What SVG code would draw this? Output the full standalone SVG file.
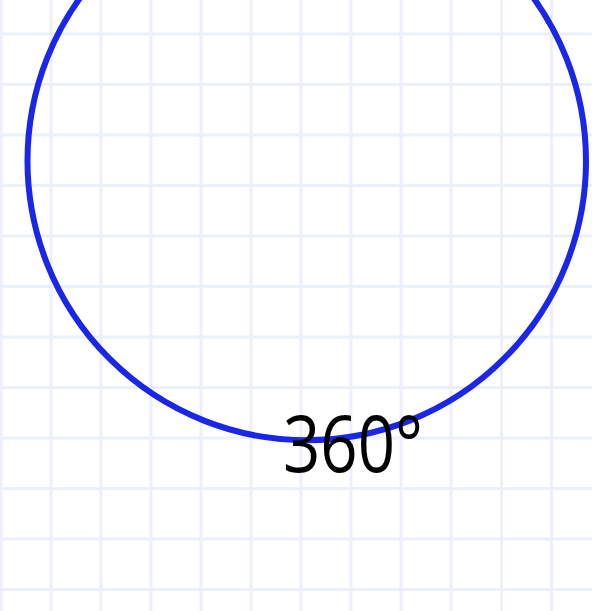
<svg xmlns="http://www.w3.org/2000/svg" width="592" height="611" viewBox="0 0 592 611">
<defs>
<style>
.grid line{stroke:#ecf0fa;stroke-width:3}
.arc{fill:none;stroke:#1a26e8;stroke-width:6}
.lbl{font-family:"Open Sans","Noto Sans","Liberation Sans",sans-serif;font-size:79px;fill:#000}
</style>
</defs>
<rect width="592" height="611" fill="#ffffff"/>
<g class="grid">
<line x1="1" y1="0" x2="1" y2="611"/>
<line x1="51" y1="0" x2="51" y2="611"/>
<line x1="101" y1="0" x2="101" y2="611"/>
<line x1="151" y1="0" x2="151" y2="611"/>
<line x1="201" y1="0" x2="201" y2="611"/>
<line x1="251" y1="0" x2="251" y2="611"/>
<line x1="301" y1="0" x2="301" y2="611"/>
<line x1="351" y1="0" x2="351" y2="611"/>
<line x1="401" y1="0" x2="401" y2="611"/>
<line x1="451" y1="0" x2="451" y2="611"/>
<line x1="501.5" y1="0" x2="501.5" y2="611"/>
<line x1="551.5" y1="0" x2="551.5" y2="611"/>
<line x1="0" y1="34" x2="592" y2="34"/>
<line x1="0" y1="84.5" x2="592" y2="84.5"/>
<line x1="0" y1="135" x2="592" y2="135"/>
<line x1="0" y1="185.5" x2="592" y2="185.5"/>
<line x1="0" y1="236" x2="592" y2="236"/>
<line x1="0" y1="286.5" x2="592" y2="286.5"/>
<line x1="0" y1="337" x2="592" y2="337"/>
<line x1="0" y1="387.5" x2="592" y2="387.5"/>
<line x1="0" y1="438" x2="592" y2="438"/>
<line x1="0" y1="488.5" x2="592" y2="488.5"/>
<line x1="0" y1="539" x2="592" y2="539"/>
<line x1="0" y1="589.5" x2="592" y2="589.5"/>
</g>
<g id="circle">
<circle class="arc" cx="306.75" cy="161" r="279.25"/>
</g>
<g id="label">
<text class="lbl" x="353" y="472" text-anchor="middle" textLength="140" lengthAdjust="spacingAndGlyphs">360°</text>
</g>
</svg>
